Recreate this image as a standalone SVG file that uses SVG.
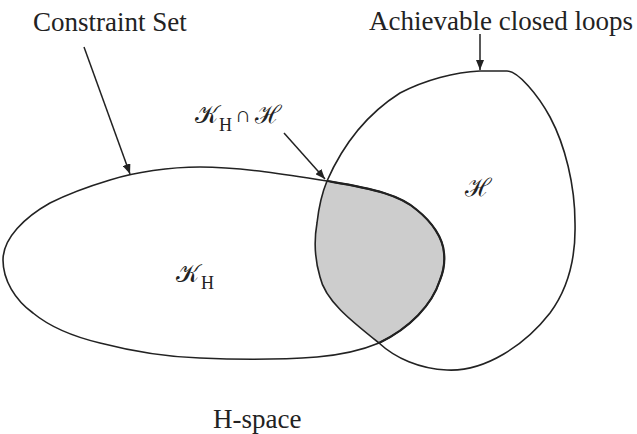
<svg xmlns="http://www.w3.org/2000/svg" width="637" height="434" viewBox="0 0 637 434">
<style>
.loop{fill:none;stroke:#222;stroke-width:1.6;stroke-linejoin:round}
.lbl{font-family:"Liberation Serif","Times New Roman",serif;font-size:27px;fill:#222}
.scr{font-family:"DejaVu Serif","Noto Sans","DejaVu Sans",serif;font-size:25px;fill:#222}
.sub{font-family:"Liberation Serif",serif;font-size:18px;fill:#222}
.conn{fill:none;stroke:#222;stroke-width:1.5}
</style>
<defs>
<marker id="ah" markerUnits="userSpaceOnUse" markerWidth="10" markerHeight="8" refX="10" refY="4" orient="auto">
<path d="M0,0 L10,4 L0,8 Z" fill="#222"/>
</marker>
</defs>
<rect width="637" height="434" fill="#fff"/>
<g id="intersection">
<path d="M327,181 C322,193 319,205 317,223 C314,240 315,260 320,277 C325,300 350,320 379,343 C410,328 432,305 440,280 C444,270 445,262 444,253 C443,238 432,222 417,210 C408,202 397,197 384,193 C365,187 345,184 327,181 Z" fill="#cdcdcd" stroke="none"/>
<path d="M379,343 C410,328 432,305 440,280 C444,270 445,262 444,253 C443,238 432,222 417,210 C408,202 397,197 384,193 C365,187 345,184 327,181" fill="none" stroke="#222" stroke-width="2.2"/>
<text x="195" y="123" class="scr">𝒦</text>
<text x="219" y="131" class="sub">H</text>
<text x="235" y="122" class="lbl" style="font-size:22px">∩</text>
<text x="255" y="123" class="scr">ℋ</text>
</g>
<g id="constraint-set">
<path class="loop" d="M327,181 C290,175 240,167 200,167 C170,167 135,172 110,180 C90,186 70,193 50,203 C25,217 3,238 3,260 C3,280 15,300 33,313 C50,327 75,337 100,343 C135,352 165,357 200,358 C245,360 290,359 317,357 C340,355 360,351 379,343 C410,328 432,305 440,280 C444,270 445,262 444,253 C443,238 432,222 417,210 C408,202 397,197 384,193 C365,187 345,184 327,181 Z"/>
<text x="176" y="282" class="scr">𝒦</text>
<text x="201" y="289" class="sub">H</text>
<text x="33" y="31" class="lbl">Constraint Set</text>
</g>
<g id="achievable">
<path class="loop" d="M480,71 L507,71 C518,71 538,95 550,117 C565,145 575,185 575,223 C576,260 567,290 550,313 C525,345 485,372 447,370 C420,369 395,358 379,343 C350,320 325,300 320,277 C315,260 314,240 317,223 C319,205 322,193 327,181 C345,140 370,112 400,93 C425,80 455,72 480,71 Z"/>
<text x="465" y="196" class="scr">ℋ</text>
<text x="369" y="30" class="lbl">Achievable closed loops</text>
</g>
<g id="hspace">
<text x="213" y="428" class="lbl">H-space</text>
</g>
<g id="connectors">
<line class="conn" x1="84" y1="47" x2="130" y2="174" marker-end="url(#ah)"/>
<line class="conn" x1="284" y1="133" x2="325" y2="179" marker-end="url(#ah)"/>
<line class="conn" x1="480" y1="34" x2="480" y2="70" marker-end="url(#ah)"/>
</g>
</svg>
